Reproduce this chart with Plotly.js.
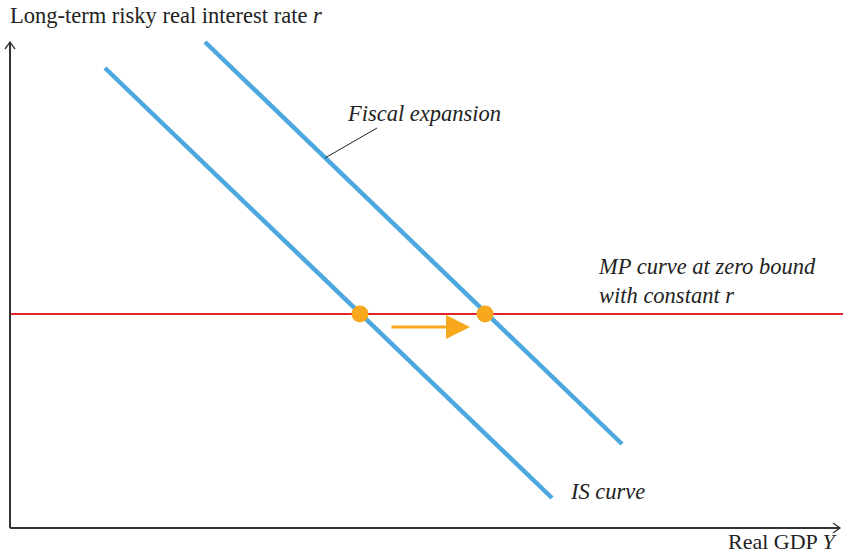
<!DOCTYPE html>
<html><head><meta charset="utf-8">
<script src="https://cdn.plot.ly/plotly-3.0.1.min.js"></script>
<style>html,body{margin:0;padding:0;background:#fff}</style>
</head><body>
<div id="chart" style="width:843px;height:555px"></div>
<script>
// Data (in chart units)
const isX = [95, 542];
const isY = [460, 30];
const fiscalX = [195, 612];
const fiscalY = [486, 84];
const mpX = [0, 833];
const mpY = [214, 214];
const eqX = [350, 475];
const eqY = [214, 214];
const shiftX = [380, 460];
const shiftY = [201, 201];
const calloutX = [315, 367];
const calloutY = [370, 400];

const serif = 'Liberation Serif, DejaVu Serif, serif';
const txt = '#222';
const blue = '#4da8df';
const axc = '#333';

const traces = [
  {x: isX, y: isY, mode: 'lines', line: {color: blue, width: 4.5}, hoverinfo: 'skip'},
  {x: fiscalX, y: fiscalY, mode: 'lines', line: {color: blue, width: 4.5}, hoverinfo: 'skip'},
  {x: mpX, y: mpY, mode: 'lines', line: {color: '#e1232a', width: 2}, hoverinfo: 'skip'},
  {x: calloutX, y: calloutY, mode: 'lines', line: {color: '#222', width: 1}, hoverinfo: 'skip'},
  {x: eqX, y: eqY, mode: 'markers', marker: {color: '#f8a81c', size: 17}, hoverinfo: 'skip'}
];

const layout = {
  width: 843, height: 555,
  margin: {l: 0, r: 0, t: 30, b: 17},
  paper_bgcolor: '#fff', plot_bgcolor: '#fff',
  showlegend: false,
  xaxis: {range: [-10, 833], showgrid: false, zeroline: false, showticklabels: false, ticks: '', showline: false, fixedrange: true},
  yaxis: {range: [-10, 498], showgrid: false, zeroline: false, showticklabels: false, ticks: '', showline: false, fixedrange: true},
  shapes: [
    {type: 'line', xref: 'x', yref: 'y', x0: 0, y0: 0, x1: 830, y1: 0, line: {color: axc, width: 2}},
    {type: 'line', xref: 'x', yref: 'y', x0: 0, y0: 0, x1: 0, y1: 486, line: {color: axc, width: 2}},
    {type: 'path', xref: 'x', yref: 'y', path: 'M -5,479 L 0,486 L 5,479', line: {color: axc, width: 1.3}},
    {type: 'path', xref: 'x', yref: 'y', path: 'M 823,5 L 830,0 L 823,-5', line: {color: axc, width: 1.3}}
  ],
  annotations: [
    {x: shiftX[1], y: shiftY[1], ax: shiftX[0], ay: shiftY[0], xref: 'x', yref: 'y', axref: 'x', ayref: 'y',
     showarrow: true, arrowhead: 2, arrowsize: 1.6, arrowwidth: 3, arrowcolor: '#f8a81c', text: ''},
    {xref: 'paper', yref: 'paper', x: 0, y: 1, xanchor: 'left', yanchor: 'middle', yshift: 15, xshift: 8,
     text: 'Long-term risky real interest rate <i>r</i>', showarrow: false, font: {family: serif, size: 22.5, color: txt}},
    {xref: 'paper', yref: 'paper', x: 1, y: 0, xanchor: 'right', yanchor: 'middle', yshift: -3, xshift: -3,
     text: 'Real GDP <i>Y</i>', showarrow: false, font: {family: serif, size: 22, color: txt}},
    {xref: 'x', yref: 'y', x: 414, y: 415, xanchor: 'center', yanchor: 'middle',
     text: '<i>Fiscal expansion</i>', showarrow: false, font: {family: serif, size: 22.5, color: txt}},
    {xref: 'x', yref: 'y', x: 586, y: 247, xanchor: 'left', yanchor: 'middle', align: 'left',
     text: '<i>MP curve at zero bound<br>with constant r</i>', showarrow: false, font: {family: serif, size: 22.5, color: txt}},
    {xref: 'x', yref: 'y', x: 558, y: 37, xanchor: 'left', yanchor: 'middle',
     text: '<i>IS curve</i>', showarrow: false, font: {family: serif, size: 22.5, color: txt}}
  ]
};

Plotly.newPlot('chart', traces, layout, {displayModeBar: false, staticPlot: true});
</script>
</body></html>
